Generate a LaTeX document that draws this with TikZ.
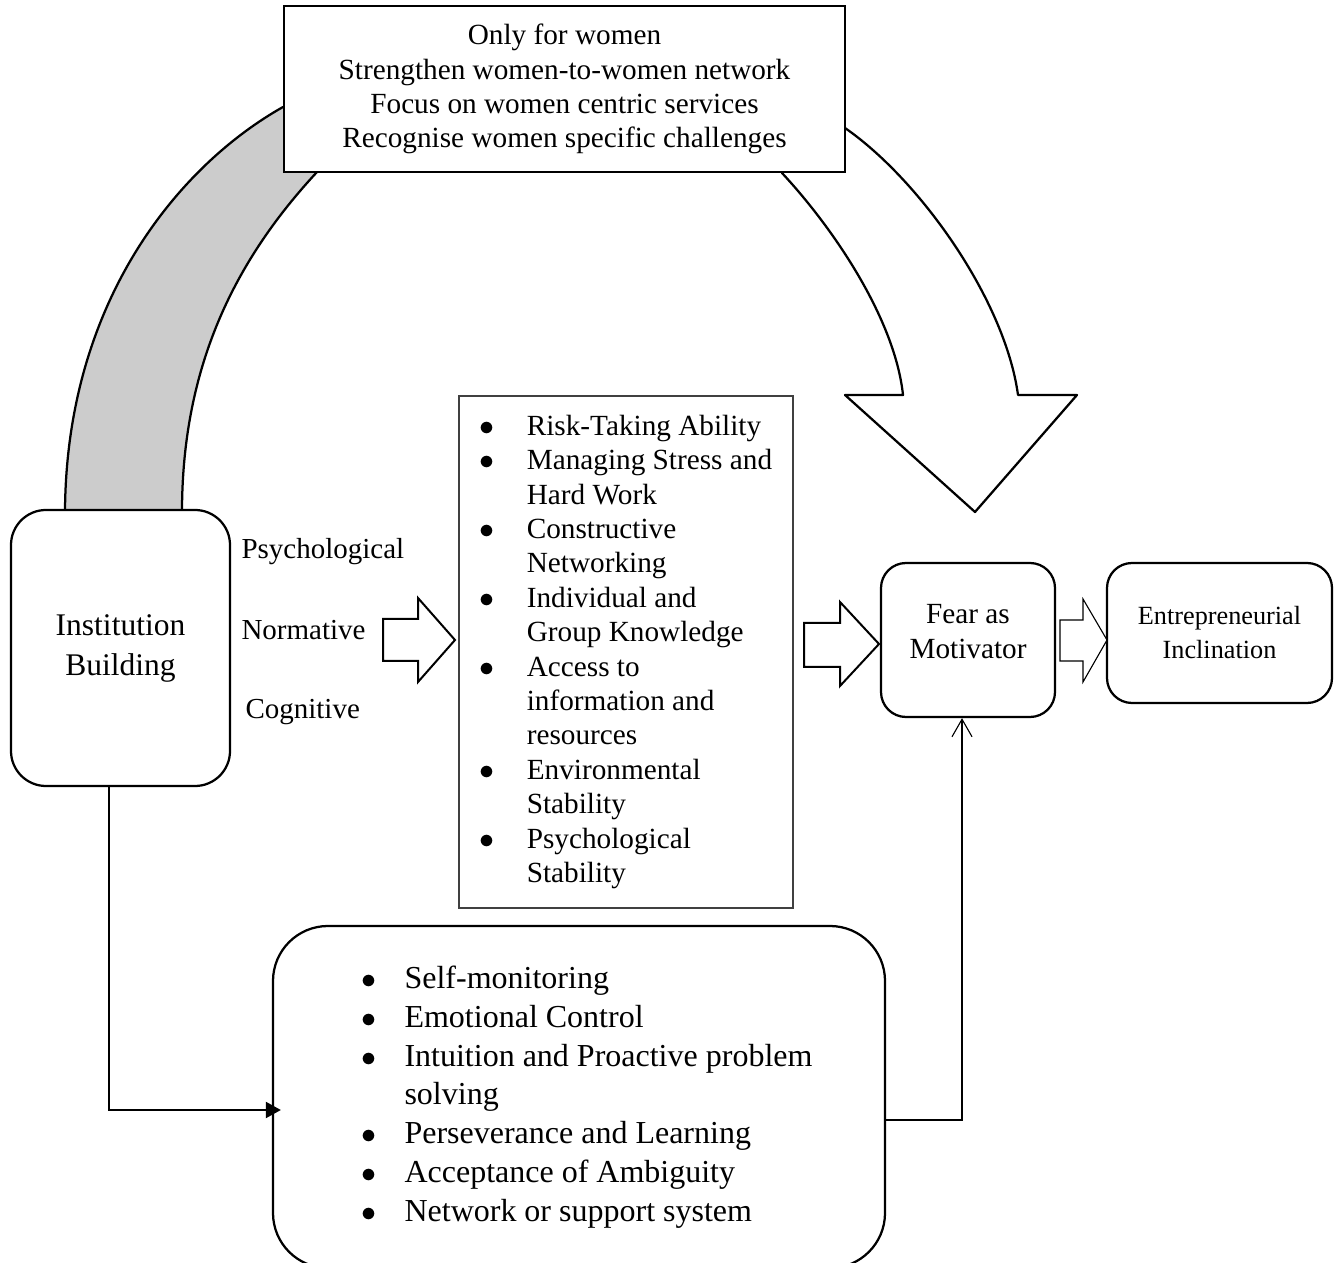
\documentclass[tikz,border=0pt]{standalone}
\usepackage{fontspec}
\setmainfont{Liberation Serif}
\usetikzlibrary{arrows.meta,positioning}
\newcommand{\bdot}{$\bullet$}

\begin{document}
\begin{tikzpicture}[
  x=0.4pt,y=-0.4pt,
  box/.style={draw,line width=0.9pt,fill=white,align=center,inner sep=0pt,
              font=\fontsize{11.7}{13.7}\selectfont},
  rbox/.style={box,rounded corners=10pt},
  lbl/.style={inner sep=0pt,anchor=base west,font=\fontsize{11.6}{13.6}\selectfont},
  band/.style={draw,line width=0.9pt,fill=black!20,line join=round},
  bigarr/.style={draw,line width=0.9pt,fill=white,line join=round},
  fatarr/.style={draw,line width=0.8pt,fill=white},
  thickarr/.style={-{Triangle[length=6pt,width=6.4pt]},line width=0.8pt},
  thinarr/.style={-{Straight Barb[length=7pt,width=8pt]},line width=0.45pt}
]
\useasboundingbox (0,0) rectangle (1339,1263);
% Grey band (left leg of the arch)
\draw[band] (65,512) .. controls (66,300) and (180,165) .. (283,107)
  -- (330,140) -- (317,172) .. controls (240,255) and (182,360) .. (182,512)
  -- cycle;
% White curved arrow (right leg)
\draw[bigarr] (845,128) .. controls (920,180) and (1005,300) .. (1018,395)
  -- (1077,395) -- (975,512) -- (845,395) -- (903,395)
  .. controls (895,320) and (835,230) .. (782,173) -- (800,140) -- cycle;
% Women box
\node[box,line width=1pt,minimum width=224.4pt,minimum height=66.4pt]
  (women) at (564.5,89)
  {Only for women\\Strengthen women-to-women network\\
   Focus on women centric services\\Recognise women specific challenges};
% Institution building
\node[rbox,rounded corners=14pt,minimum width=87.6pt,minimum height=110.4pt,
      font=\fontsize{12.6}{16}\selectfont]
  (inst) at (120.5,648) {Institution\\Building};
% Pillars
\node[lbl] (psy) at (241,559) {Psychological};
\node[lbl] (nor) at (241,640) {Normative};
\node[lbl] (cog) at (245,719) {Cognitive};
% Skills list
\node[box,draw=black!75,line width=0.6pt,minimum width=133.6pt,minimum height=204.8pt,
      font=\fontsize{11.7}{13.76}\selectfont]
  (skills) at (626,652)
  {\begin{tabular}{@{}p{18.8pt}@{}l@{}}
   \bdot & Risk-Taking Ability\\
   \bdot & Managing Stress and\\
         & Hard Work\\
   \bdot & Constructive\\
         & Networking\\
   \bdot & Individual and\\
         & Group Knowledge\\
   \bdot & Access to\\
         & information and\\
         & resources\\
   \bdot & Environmental\\
         & Stability\\
   \bdot & Psychological\\
         & Stability
   \end{tabular}};
% Traits list
\node[rbox,rounded corners=22pt,minimum width=244.8pt,minimum height=136.8pt,
      font=\fontsize{12.8}{15.5}\selectfont]
  (traits) at (579,1097)
  {\begin{tabular}{@{\hspace{6.4pt}}p{17.2pt}@{}l@{}}
   \bdot & Self-monitoring\\
   \bdot & Emotional Control\\
   \bdot & Intuition and Proactive problem\\
         & solving\\
   \bdot & Perseverance and Learning\\
   \bdot & Acceptance of Ambiguity\\
   \bdot & Network or support system
   \end{tabular}};
% Fear as motivator
\node[rbox,minimum width=69.6pt,minimum height=61.6pt,
      font=\fontsize{11.7}{14}\selectfont]
  (fear) at (968,640)
  {\raisebox{2.4pt}[\height][\depth]{\begin{tabular}{@{}c@{}}Fear as\\Motivator\end{tabular}}};
% Entrepreneurial inclination
\node[rbox,minimum width=90pt,minimum height=56pt,
      font=\fontsize{10.5}{13.6}\selectfont]
  (incl) at (1219.5,633) {Entrepreneurial\\Inclination};
% Block arrows
\draw[fatarr] (383,619) -- (418,619) -- (418,598) -- (455,640)
  -- (418,682) -- (418,661) -- (383,661) -- cycle;
\draw[fatarr] (804,623) -- (840,623) -- (840,602) -- (879,644)
  -- (840,686) -- (840,667) -- (804,667) -- cycle;
\draw[fatarr,line width=0.45pt] (1060,620) -- (1083,620) -- (1083,599) -- (1107,640)
  -- (1083,682) -- (1083,661) -- (1060,661) -- cycle;
% Connectors
\draw[thickarr] ([xshift=-4.6pt]inst.south) |- ([xshift=3.6pt,yshift=-5.2pt]traits.west);
\draw[thinarr] ([yshift=-9.2pt]traits.east) -| ([xshift=-2.4pt]fear.south);
\end{tikzpicture}
\end{document}
